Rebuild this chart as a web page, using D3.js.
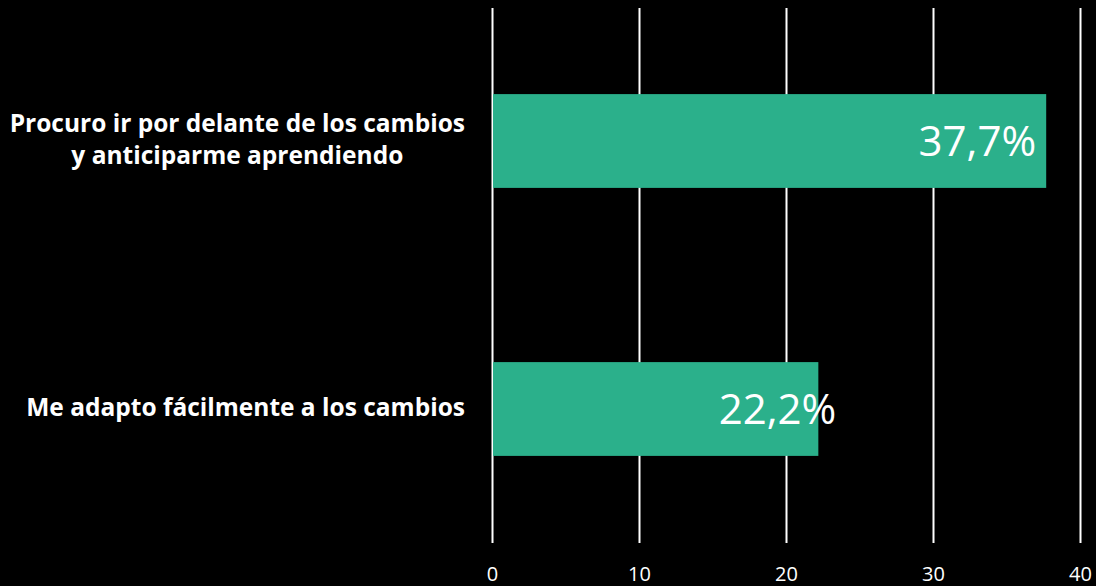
<!DOCTYPE html>
<html>
<head>
<meta charset="utf-8">
<script src="https://cdn.jsdelivr.net/npm/d3@7"></script>
<style>
  body { margin: 0; background: #000; }
  svg { display: block; }
  .cat { font-family: "Open Sans", Lato, sans-serif; font-weight: bold; font-size: 24.5px; fill: #fff; }
  .tick text { font-family: "Open Sans", Lato, sans-serif; font-size: 20px; fill: #fff; }
  .val { font-family: "Open Sans", Lato, sans-serif; font-size: 42px; fill: #fff; }
</style>
</head>
<body>
<div id="chart"></div>
<script>
// data
var categories = [
  ["Procuro ir por delante de los cambios", "y anticiparme aprendiendo"],
  ["Me adapto fácilmente a los cambios"]
];
var values = [37.7, 22.2];
var labels = ["37,7%", "22,2%"];
var xTicks = [0, 10, 20, 30, 40];

var width = 1096, height = 586;
var svg = d3.select("#chart").append("svg")
  .attr("width", width)
  .attr("height", height);

svg.append("rect").attr("width", width).attr("height", height).attr("fill", "#000");

var x = d3.scaleLinear().domain([0, 40]).range([492, 1080]);
var y = d3.scaleBand()
  .domain(d3.range(values.length))
  .range([7, 543])
  .paddingInner(0.65)
  .paddingOuter(0.325);

var gridTop = 8, gridBottom = 543;

// gridlines + tick labels
var axis = d3.axisBottom(x)
  .tickValues(xTicks)
  .tickSize(-(gridBottom - gridTop))
  .tickPadding(0)
  .tickFormat(d3.format("d"));

var ax = svg.append("g")
  .attr("transform", "translate(0," + gridBottom + ")")
  .call(axis);
ax.select(".domain").remove();
ax.selectAll(".tick line").attr("stroke", "#fff").attr("stroke-width", 2);
ax.selectAll(".tick text").attr("y", 38).attr("dy", 0).attr("fill", "#fff");

// bars
svg.selectAll(".bar")
  .data(values)
  .enter().append("rect")
  .attr("class", "bar")
  .attr("x", x(0) + 1)
  .attr("y", function(d, i) { return y(i); })
  .attr("width", function(d) { return x(d) - x(0) - 1; })
  .attr("height", y.bandwidth())
  .attr("fill", "#2bb08b");

// value labels (excel placed the second one slightly past the bar end)
var labelShift = [-10, 18];
svg.selectAll(".val")
  .data(values)
  .enter().append("text")
  .attr("class", "val")
  .attr("text-anchor", "end")
  .attr("x", function(d, i) { return x(d) + labelShift[i]; })
  .attr("y", function(d, i) { return y(i) + y.bandwidth() / 2 + 15; })
  .text(function(d, i) { return labels[i]; });

// category labels: block right aligned at axis, lines centred in block
var labelRight = 465, lineH = 32;
categories.forEach(function(lines, i) {
  var g = svg.append("g");
  var texts = g.selectAll("text")
    .data(lines)
    .enter().append("text")
    .attr("class", "cat")
    .attr("text-anchor", "middle")
    .text(function(d) { return d; });
  var maxW = d3.max(texts.nodes(), function(n) { return n.getComputedTextLength(); });
  var cy = y(i) + y.bandwidth() / 2;
  var first = cy - (lines.length - 1) * lineH / 2 + 7;
  texts.attr("x", labelRight - maxW / 2)
    .attr("y", function(d, j) { return first + j * lineH; });
});
</script>
</body>
</html>
